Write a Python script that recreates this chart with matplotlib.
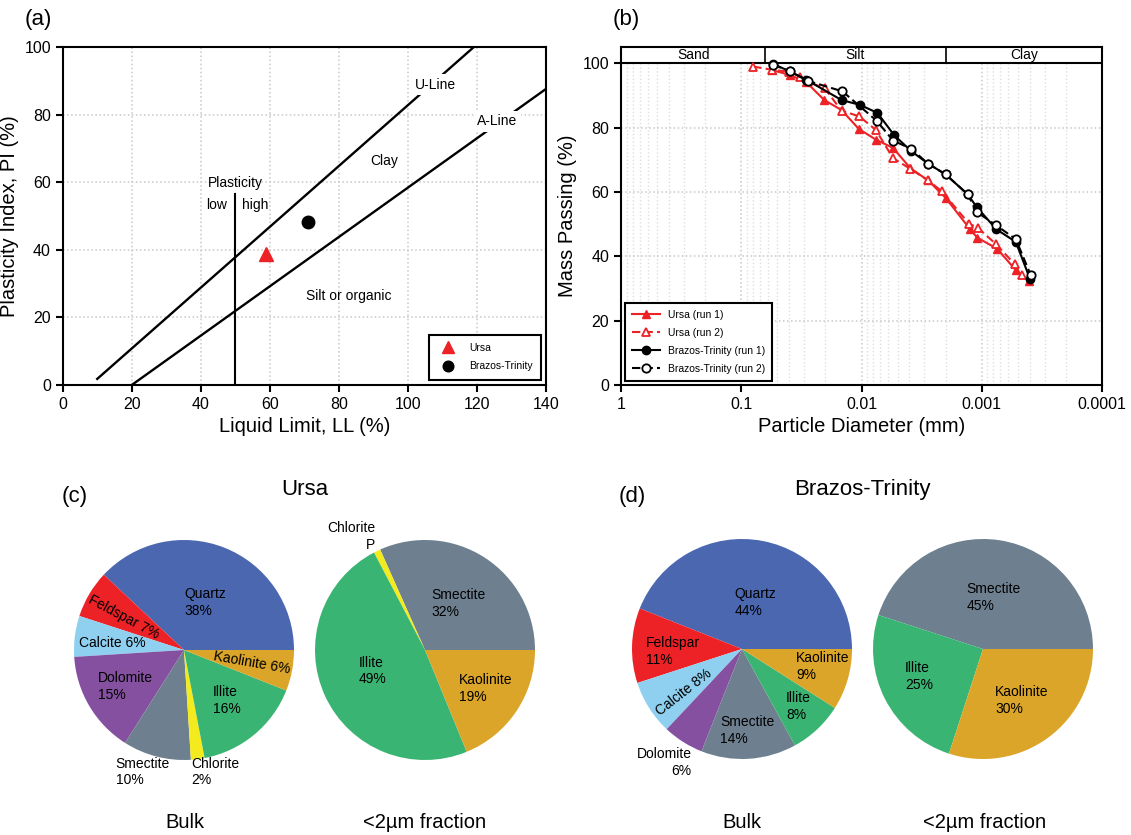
import matplotlib.pyplot as plt
from matplotlib.ticker import FixedLocator, FixedFormatter, LogLocator, NullFormatter

plt.rcParams['font.family'] = ['Liberation Sans', 'DejaVu Sans']
plt.rcParams['axes.linewidth'] = 1.5

# ---------------- (a) plasticity chart
samples = ['Ursa', 'Brazos-Trinity']
liquid_limit = [58.9, 71.1]
plasticity_index = [38.8, 48.1]

# ---------------- (b) grain size distributions (diameter in mm, % passing)
ursa1_d = [0.0552, 0.0394, 0.0287, 0.0204, 0.01466, 0.01052, 0.0076, 0.00546,
           0.00392, 0.00279, 0.0020, 0.00126, 0.00109, 0.000746, 0.000521, 0.000407]
ursa1_p = [97.9, 96.4, 94.1, 88.6, 85.5, 79.6, 76.3, 73.7,
           67.4, 63.6, 58.2, 48.6, 45.8, 42.4, 35.7, 32.3]
ursa2_d = [0.0794, 0.0552, 0.0399, 0.0325, 0.0281, 0.0203, 0.01466, 0.0104, 0.0076,
           0.00546, 0.00392, 0.00279, 0.00216, 0.00128, 0.00108, 0.000756, 0.00053, 0.00046]
ursa2_p = [99.0, 98.0, 97.4, 95.9, 94.3, 92.3, 85.3, 83.5, 79.3,
           70.5, 67.2, 63.6, 60.3, 50.2, 48.9, 43.7, 37.5, 34.1]
bt1_d = [0.0542, 0.0394, 0.0287, 0.01466, 0.0103, 0.00737, 0.00533, 0.00385,
         0.00279, 0.0020, 0.00131, 0.00110, 0.000755, 0.000521, 0.000398]
bt1_p = [99.8, 97.5, 94.9, 88.6, 87.1, 84.6, 77.6, 72.7,
         68.8, 65.5, 59.3, 55.3, 48.4, 44.5, 33.1]
bt2_d = [0.0542, 0.0394, 0.0281, 0.0144, 0.0075, 0.00546, 0.00385, 0.00279,
         0.0020, 0.00131, 0.0011, 0.000755, 0.00052, 0.000393]
bt2_p = [99.6, 97.5, 94.6, 91.3, 82.2, 76.0, 73.4, 68.8,
         65.5, 59.3, 53.8, 49.6, 45.3, 34.3]
size_classes = ['Sand', 'Silt', 'Clay']
class_bounds = [1.0, 0.063, 0.002, 0.0001]

# ---------------- (c), (d) mineralogy
ursa_bulk_names = ['Quartz', 'Feldspar', 'Calcite', 'Dolomite', 'Smectite', 'Chlorite', 'Illite', 'Kaolinite']
ursa_bulk_pct = [38, 7, 6, 15, 10, 2, 16, 6]
ursa_clay_names = ['Smectite', 'Chlorite', 'Illite', 'Kaolinite']
ursa_clay_pct = [32, 1, 49, 19]
bt_bulk_names = ['Quartz', 'Feldspar', 'Calcite', 'Dolomite', 'Smectite', 'Illite', 'Kaolinite']
bt_bulk_pct = [44, 11, 8, 6, 14, 8, 9]
bt_clay_names = ['Smectite', 'Illite', 'Kaolinite']
bt_clay_pct = [45, 25, 30]

mineral_colors = {
    'Quartz': '#4b67b0', 'Feldspar': '#ec2227', 'Calcite': '#8fd0f0',
    'Dolomite': '#84509f', 'Smectite': '#6e808f', 'Chlorite': '#f4eb1f',
    'Illite': '#3ab472', 'Kaolinite': '#daa528',
}

W, H = 1131, 835
fig = plt.figure(figsize=(W / 100, H / 100), dpi=100)


def px_axes(left, top, right, bottom):
    return fig.add_axes([left / W, (H - bottom) / H, (right - left) / W, (bottom - top) / H])


TICK = 11.5
LAB = 14.5
grid_kw = dict(color='#c8c8c8', linestyle=':', linewidth=1.1)

# ================= (a)
ax = px_axes(62.7, 47, 546, 385)
ax.set_xlim(0, 140)
ax.set_ylim(0, 100)
ax.set_xticks(range(0, 141, 20))
ax.set_yticks(range(0, 101, 20))
ax.grid(True, **grid_kw)
ax.set_axisbelow(True)
ax.tick_params(direction='out', length=5, width=1.5, labelsize=TICK)
ax.set_xlabel('Liquid Limit, LL (%)', fontsize=LAB, labelpad=4)
ax.set_ylabel('Plasticity Index, PI (%)', fontsize=LAB, labelpad=4)

ax.plot([10, 8 + 100 / 0.9], [0.9 * 2, 100], color='k', lw=1.7, zorder=2)
ax.plot([20, 140], [0, 0.73 * 120], color='k', lw=1.7, zorder=2)
ax.plot([50, 50], [0, 56.5], color='k', lw=1.5, zorder=2)

box = dict(facecolor='white', edgecolor='none', pad=2.5)
ax.text(108.1, 88.9, 'U-Line', fontsize=10, ha='center', va='center', bbox=box, zorder=3)
ax.text(125.9, 78.0, 'A-Line', fontsize=10, ha='center', va='center', bbox=box, zorder=3)
ax.text(93.2, 66.4, 'Clay', fontsize=10, ha='center', va='center')
ax.text(50, 59.7, 'Plasticity', fontsize=10, ha='center', va='center')
ax.text(44.7, 53.4, 'low', fontsize=10, ha='center', va='center')
ax.text(55.7, 53.4, 'high', fontsize=10, ha='center', va='center')
ax.text(82.8, 26.2, 'Silt or organic', fontsize=10, ha='center', va='center')

ax.plot(liquid_limit[0], plasticity_index[0], '^', color='#ec2227', ms=10,
        ls='none', label=samples[0], zorder=4)
ax.plot(liquid_limit[1], plasticity_index[1], 'o', color='k', ms=9,
        ls='none', label=samples[1], zorder=4)
leg = ax.legend(loc='lower right', fontsize=7.5, fancybox=False, edgecolor='k',
                framealpha=1, borderpad=0.8, labelspacing=0.8, handletextpad=1.0,
                borderaxespad=0.5, markerscale=0.85)
leg.get_frame().set_linewidth(1.5)
fig.text(38 / W, 1 - 19 / H, '(a)', fontsize=16, ha='center', va='center')

# ================= (b)
bx = px_axes(621, 47.3, 1102, 385)
bx.set_xscale('log')
bx.set_xlim(1, 1e-4)
bx.set_ylim(0, 105)
bx.set_yticks(range(0, 101, 20))
bx.xaxis.set_major_locator(FixedLocator([1, 0.1, 0.01, 0.001, 0.0001]))
bx.xaxis.set_major_formatter(FixedFormatter(['1', '0.1', '0.01', '0.001', '0.0001']))
bx.xaxis.set_minor_locator(LogLocator(base=10, subs=range(2, 10)))
bx.xaxis.set_minor_formatter(NullFormatter())
bx.tick_params(which='minor', length=0)
bx.tick_params(which='major', direction='out', length=5, width=1.5, labelsize=TICK)
bx.grid(True, which='major', **grid_kw)
bx.grid(True, which='minor', axis='x', color='#dedede', linestyle=':', linewidth=1.0)
bx.set_axisbelow(True)
bx.set_xlabel('Particle Diameter (mm)', fontsize=LAB, labelpad=4)
bx.set_ylabel('Mass Passing (%)', fontsize=LAB, labelpad=4)

# size-class header band above 100 %
bx.axhspan(100, 105, color='white', zorder=1.5)
bx.axhline(100, color='k', lw=1.5, zorder=2)
for b in class_bounds[1:-1]:
    bx.plot([b, b], [100, 105], color='k', lw=1.2, zorder=2)
for name, hi, lo in zip(size_classes, class_bounds[:-1], class_bounds[1:]):
    bx.text((hi * lo) ** 0.5, 102.5, name, fontsize=10, ha='center', va='center')

red = '#ec2227'
line_kw = dict(lw=1.5, ms=6)
bx.plot(ursa1_d, ursa1_p, '-^', color=red, label='Ursa (run 1)', **line_kw, zorder=3)
bx.plot(ursa2_d, ursa2_p, '--^', color=red, mfc='white', mew=1.3,
        label='Ursa (run 2)', dashes=(4, 2), **line_kw, zorder=3)
bx.plot(bt1_d, bt1_p, '-o', color='k', label='Brazos-Trinity (run 1)', **line_kw, zorder=3)
bx.plot(bt2_d, bt2_p, '--o', color='k', mfc='white', mew=1.3,
        label='Brazos-Trinity (run 2)', dashes=(4, 2), **line_kw, zorder=3)
leg = bx.legend(loc='lower left', fontsize=7.5, fancybox=False, edgecolor='k',
                framealpha=1, borderpad=0.7, labelspacing=0.75, handlelength=2.6,
                handletextpad=0.8, borderaxespad=0.4)
leg.get_frame().set_linewidth(1.5)
fig.text(626 / W, 1 - 19 / H, '(b)', fontsize=16, ha='center', va='center')

# ================= (c), (d) pies
R = 110


def pie_panel(cx, cy, names, pct, labels):
    pax = px_axes(cx - 1.2 * R, cy - 1.2 * R, cx + 1.2 * R, cy + 1.2 * R)
    pax.pie(pct, colors=[mineral_colors[n] for n in names], startangle=0,
            counterclock=True, radius=1, labeldistance=None,
            wedgeprops=dict(linewidth=0))
    pax.set_xlim(-1.2, 1.2)
    pax.set_ylim(-1.2, 1.2)
    pax.set_aspect('equal')
    pax.axis('off')
    for name, p, (dx, dy, sep, ha, rot) in zip(names, pct, labels):
        txt = f'{name}{sep}{p}%' if sep is not None else f'{name}\nP'
        pax.text(dx, dy, txt, fontsize=10, ha=ha, va='center', rotation=rot,
                 rotation_mode='anchor', multialignment=ha if ha != 'center' else 'left',
                 linespacing=1.25, clip_on=False)
    return pax


# label layout: (x, y, separator, alignment, rotation)
pie_panel(184, 650, ursa_bulk_names, ursa_bulk_pct, [
    (0.0, 0.43, '\n', 'left', 0),
    (-0.55, 0.30, ' ', 'center', -28),
    (-0.65, 0.06, ' ', 'center', 0),
    (-0.78, -0.33, '\n', 'left', 0),
    (-0.62, -1.11, '\n', 'left', 0),
    (0.07, -1.11, '\n', 'left', 0),
    (0.26, -0.46, '\n', 'left', 0),
    (0.62, -0.115, ' ', 'center', -10),
])
pie_panel(425, 650, ursa_clay_names, ursa_clay_pct, [
    (0.06, 0.42, '\n', 'left', 0),
    (-0.45, 1.03, None, 'right', 0),
    (-0.6, -0.19, '\n', 'left', 0),
    (0.31, -0.35, '\n', 'left', 0),
])
pie_panel(742, 649, bt_bulk_names, bt_bulk_pct, [
    (-0.07, 0.42, '\n', 'left', 0),
    (-0.875, -0.02, '\n', 'left', 0),
    (-0.53, -0.39, ' ', 'center', 38),
    (-0.46, -1.03, '\n', 'right', 0),
    (-0.2, -0.74, '\n', 'left', 0),
    (0.40, -0.52, '\n', 'left', 0),
    (0.49, -0.16, '\n', 'left', 0),
])
pie_panel(983, 649, bt_clay_names, bt_clay_pct, [
    (-0.15, 0.47, '\n', 'left', 0),
    (-0.71, -0.25, '\n', 'left', 0),
    (0.11, -0.47, '\n', 'left', 0),
])

fig.text(75 / W, 1 - 497 / H, '(c)', fontsize=16, ha='center', va='center')
fig.text(632 / W, 1 - 497 / H, '(d)', fontsize=16, ha='center', va='center')
fig.text(305 / W, 1 - 489 / H, 'Ursa', fontsize=16, ha='center', va='center')
fig.text(862 / W, 1 - 489 / H, 'Brazos-Trinity', fontsize=16, ha='center', va='center')
for x, t in [(185, 'Bulk'), (425, '<2µm fraction'), (742, 'Bulk'), (985, '<2µm fraction')]:
    fig.text(x / W, 1 - 822 / H, t, fontsize=14.5, ha='center', va='center')

fig.savefig('out.png', dpi=100)
